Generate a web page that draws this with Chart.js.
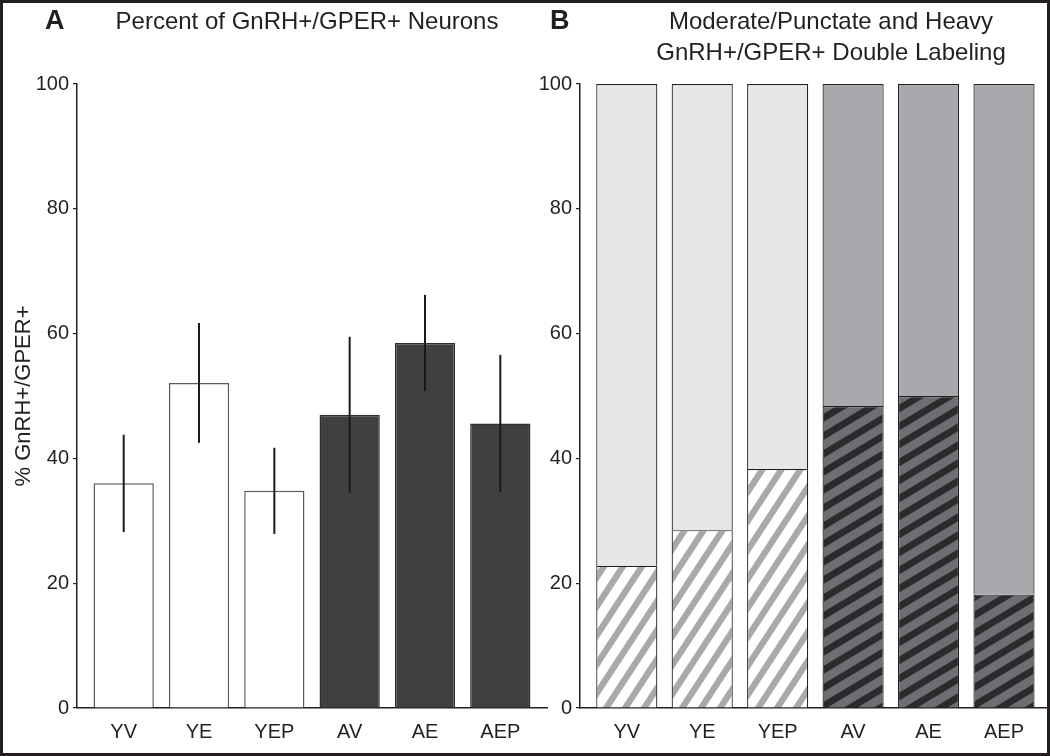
<!DOCTYPE html>
<html>
<head>
<title>GnRH+/GPER+ double labeling</title>
<script src="https://cdn.jsdelivr.net/npm/chart.js"></script>
<style>
  body { margin: 0; background: #fff; }
  #wrap { position: relative; width: 1050px; height: 756px; overflow: hidden; background: #fff; }
  #wrap canvas { position: absolute; top: 0; }
  #frame { position: absolute; left: 0; top: 0; width: 1050px; height: 756px; box-sizing: border-box;
           border: 3px solid #231f20; pointer-events: none; }
</style>
</head>
<body>
<div id="wrap">
  <canvas id="chartA" style="left:0" width="550" height="756"></canvas>
  <canvas id="chartB" style="left:500px" width="550" height="756"></canvas>
  <div id="frame"></div>
</div>

<script>
// groups on the x axis
const groups = ['YV', 'YE', 'YEP', 'AV', 'AE', 'AEP'];
const yTicks = [0, 20, 40, 60, 80, 100];

// panel A: percent of GnRH+ neurons that are GPER+ (mean and error)
const pctDouble = [36.0, 52.1, 34.8, 47.0, 58.5, 45.6];
const pctErr = [7.8, 9.6, 6.9, 12.5, 7.7, 11.0];

// panel B: share of double labeled cells, hatched part and solid part
const heavyPct = [22.8, 28.5, 38.3, 48.4, 50.0, 18.2];
const moderatePct = [77.2, 71.5, 61.7, 51.6, 50.0, 81.8];

const ink = '#231f20';
const font = '"Liberation Sans", Arial, Helvetica, sans-serif';
Chart.defaults.font.family = font;
Chart.defaults.color = ink;

const isYoung = g => g.charAt(0) === 'Y';

// diagonal stripe tiles (lines run past the tile so the caps don't show)
function stripes(w, h, bg, fg, thick) {
  const c = document.createElement('canvas');
  c.width = w; c.height = h;
  const g = c.getContext('2d');
  g.fillStyle = bg;
  g.fillRect(0, 0, w, h);
  g.strokeStyle = fg;
  g.lineWidth = thick;
  [-w, 0, w].forEach(x0 => {
    g.beginPath();
    g.moveTo(x0 - w, 2 * h);
    g.lineTo(x0 + 2 * w, -h);
    g.stroke();
  });
  return g.createPattern(c, 'repeat');
}
const youngHatch = stripes(19, 29, '#ffffff', '#a7a9ac', 6.4);
const agedHatch = stripes(30, 18, '#6d6e71', '#2b2b2d', 6.8);

// panel letter and heading
const panelText = {
  id: 'panelText',
  afterDraw(chart, args, opts) {
    const ctx = chart.ctx;
    ctx.save();
    ctx.fillStyle = ink;
    ctx.textBaseline = 'middle';
    ctx.textAlign = 'left';
    ctx.font = 'bold 27px ' + font;
    ctx.fillText(opts.letter, opts.letterX, 22);
    ctx.font = '24px ' + font;
    ctx.textAlign = 'center';
    opts.lines.forEach((t, i) => ctx.fillText(t, opts.titleX, 22 + i * 31));
    ctx.restore();
  }
};

const errorBars = {
  id: 'errorBars',
  afterDatasetsDraw(chart) {
    const meta = chart.getDatasetMeta(0);
    const y = chart.scales.y;
    const ctx = chart.ctx;
    ctx.save();
    ctx.strokeStyle = '#1a1a1a';
    ctx.lineWidth = 2;
    meta.data.forEach((bar, i) => {
      ctx.beginPath();
      ctx.moveTo(bar.x, y.getPixelForValue(pctDouble[i] + pctErr[i]));
      ctx.lineTo(bar.x, y.getPixelForValue(pctDouble[i] - pctErr[i]));
      ctx.stroke();
    });
    ctx.restore();
  }
};

function makeScales(xMax, yWidth, yTitle, stacked) {
  return {
    x: {
      type: 'linear', min: -0.62, max: xMax, stacked: stacked, offset: false,
      afterBuildTicks: s => { s.ticks = groups.map((g, i) => ({ value: i })); },
      afterFit: s => { s.height = 45; },
      grid: { display: false, drawTicks: false, offset: false },
      border: { display: true, color: ink, width: 1.5 },
      ticks: { padding: 12, autoSkip: false, maxRotation: 0, color: ink,
               font: { size: 20 }, callback: v => groups[v] }
    },
    y: {
      min: 0, max: 100, stacked: stacked,
      afterBuildTicks: s => { s.ticks = yTicks.map(v => ({ value: v })); },
      afterFit: s => { s.width = yWidth; },
      grid: { drawOnChartArea: false, drawTicks: true, tickLength: 4, color: ink, lineWidth: 1.2 },
      border: { display: true, color: ink, width: 1.5 },
      ticks: { padding: 4, color: ink, font: { size: 20 } },
      title: { display: !!yTitle, text: yTitle, color: ink, font: { size: 22 },
               padding: { top: 11, bottom: 0 } }
    }
  };
}

new Chart(document.getElementById('chartA'), {
  type: 'bar',
  data: {
    datasets: [{
      label: '% GnRH+/GPER+',
      data: groups.map((g, i) => ({ x: i, y: pctDouble[i] })),
      backgroundColor: groups.map(g => isYoung(g) ? '#ffffff' : '#404041'),
      borderColor: groups.map(g => isYoung(g) ? '#58595b' : '#2e2e2f'),
      borderWidth: 1.5,
      barPercentage: 0.8,
      categoryPercentage: 1
    }]
  },
  options: {
    responsive: false,
    animation: false,
    layout: { padding: { top: 84, left: 0, right: 3, bottom: 3 } },
    scales: makeScales(5.62, 77, '% GnRH+/GPER+', false),
    plugins: {
      legend: { display: false },
      tooltip: { enabled: false },
      panelText: { letter: 'A', letterX: 45, titleX: 307, lines: ['Percent of GnRH+/GPER+ Neurons'] }
    }
  },
  plugins: [errorBars, panelText]
});

new Chart(document.getElementById('chartB'), {
  type: 'bar',
  data: {
    datasets: [{
      label: 'Heavy',
      data: groups.map((g, i) => ({ x: i, y: heavyPct[i] })),
      backgroundColor: groups.map(g => isYoung(g) ? youngHatch : agedHatch),
      borderColor: ink,
      borderWidth: 1.2,
      barPercentage: 0.81,
      categoryPercentage: 1
    }, {
      label: 'Moderate/Punctate',
      data: groups.map((g, i) => ({ x: i, y: moderatePct[i] })),
      backgroundColor: groups.map(g => isYoung(g) ? '#e6e7e8' : '#a7a9ac'),
      borderColor: ink,
      borderWidth: 1.2,
      barPercentage: 0.81,
      categoryPercentage: 1
    }]
  },
  options: {
    responsive: false,
    animation: false,
    layout: { padding: { top: 84, left: 0, right: 3, bottom: 3 } },
    scales: makeScales(5.57, 80, '', true),
    plugins: {
      legend: { display: false },
      tooltip: { enabled: false },
      panelText: { letter: 'B', letterX: 50, titleX: 331,
                   lines: ['Moderate/Punctate and Heavy', 'GnRH+/GPER+ Double Labeling'] }
    }
  },
  plugins: [panelText]
});
</script>
</body>
</html>
